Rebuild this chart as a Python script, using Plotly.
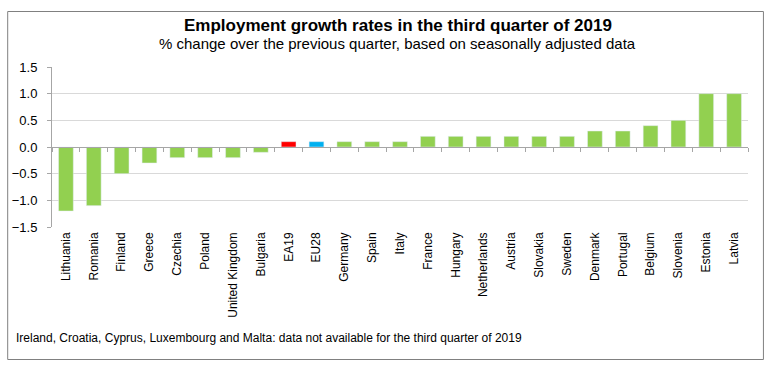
import plotly.graph_objects as go

countries = ["Lithuania", "Romania", "Finland", "Greece", "Czechia", "Poland",
             "United Kingdom", "Bulgaria", "EA19", "EU28", "Germany", "Spain", "Italy",
             "France", "Hungary", "Netherlands", "Austria", "Slovakia", "Sweden",
             "Denmark", "Portugal", "Belgium", "Slovenia", "Estonia", "Latvia"]
growth = [-1.2, -1.1, -0.5, -0.3, -0.2, -0.2, -0.2, -0.1, 0.1, 0.1, 0.1, 0.1, 0.1,
          0.2, 0.2, 0.2, 0.2, 0.2, 0.2, 0.3, 0.3, 0.4, 0.5, 1.0, 1.0]
y_ticks = [-1.5, -1.0, -0.5, 0.0, 0.5, 1.0, 1.5]

GREEN, RED, BLUE = "#92D050", "#FF0000", "#00B0F0"
colors = [RED if c == "EA19" else BLUE if c == "EU28" else GREEN for c in countries]

FONT = "Liberation Sans, Arial, sans-serif"

fig = go.Figure()
fig.add_trace(go.Bar(x=countries, y=growth, marker=dict(color=colors, line=dict(width=0)),
                     width=0.53, hoverinfo="x+y"))
# helper trace providing the zero axis with boundary ticks
fig.add_trace(go.Bar(x=countries, y=growth, xaxis="x2", marker=dict(color="rgba(0,0,0,0)"),
                     width=0.53, hoverinfo="skip", showlegend=False))

L, R, T, B = 49, 20, 67, 151
W, H = 768, 378
pw, ph = W - L - R, H - T - B

def px(x):
    return (x - L) / pw

def py(y):
    return (H - B - y) / ph

fig.update_layout(
    width=W, height=H,
    margin=dict(l=L, r=R, t=T, b=B, pad=0),
    paper_bgcolor="white", plot_bgcolor="white",
    showlegend=False,
    font=dict(family=FONT, size=12, color="#000000"),
    xaxis=dict(type="category", showline=False, ticks="", tickangle=-90,
               tickfont=dict(size=12, family=FONT), showgrid=False, zeroline=False,
               ticklabelstandoff=2, fixedrange=True),
    xaxis2=dict(type="category", overlaying="x", anchor="free", position=0.5, side="bottom",
                showline=True, linecolor="#A6A6A6", linewidth=1, ticks="outside",
                tickson="boundaries", ticklen=4, tickcolor="#A6A6A6",
                showticklabels=False, showgrid=False, zeroline=False),
    yaxis=dict(range=[-1.5, 1.5], tickvals=y_ticks, tickformat=".1f",
               showgrid=True, gridcolor="#D9D9D9", gridwidth=1, zeroline=False,
               showline=True, linecolor="#A6A6A6", linewidth=1, ticks="outside",
               ticklen=4, tickcolor="#A6A6A6", tickfont=dict(size=13, family=FONT),
               ticklabelstandoff=7, fixedrange=True),
    bargap=0.45,
    annotations=[
        dict(text="<b>Employment growth rates in the third quarter of 2019</b>",
             xref="paper", yref="paper", x=px(396), y=py(25), xanchor="center", yanchor="middle",
             showarrow=False, font=dict(size=17, family=FONT)),
        dict(text="% change over the previous quarter, based on seasonally adjusted data",
             xref="paper", yref="paper", x=px(396), y=py(44), xanchor="center", yanchor="middle",
             showarrow=False, font=dict(size=15, family=FONT)),
        dict(text="Ireland, Croatia, Cyprus, Luxembourg and Malta: data not available for the third quarter of 2019",
             xref="paper", yref="paper", x=px(11), y=py(338), xanchor="left", yanchor="middle",
             showarrow=False, font=dict(size=12, family=FONT)),
    ],
    shapes=[dict(type="rect", xref="paper", yref="paper", x0=px(4.5), x1=px(763.5),
                 y0=py(359.5), y1=py(11.5), line=dict(color="#808080", width=1),
                 fillcolor="rgba(0,0,0,0)", layer="below")],
)

fig.write_html("out.html", config={"displayModeBar": False},
               post_script="document.body.style.margin='0';document.body.style.overflow='hidden';")
